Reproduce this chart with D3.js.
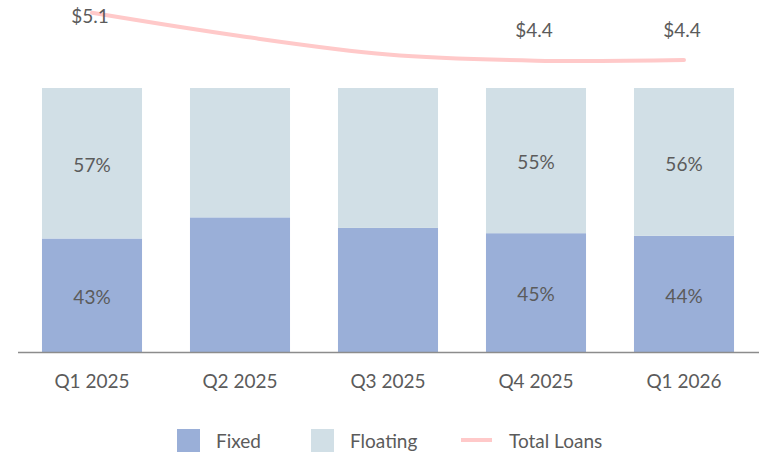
<!DOCTYPE html>
<html>
<head>
<meta charset="utf-8">
<script src="https://cdn.jsdelivr.net/npm/d3@7"></script>
<style>
  body { margin: 0; background: #fff; }
  svg { display: block; font-family: Lato, "Open Sans", sans-serif; }
</style>
</head>
<body>
<div id="container"></div>
<script>
// 数据
const quarters = ["Q1 2025", "Q2 2025", "Q3 2025", "Q4 2025", "Q1 2026"];
const fixedShare = [0.43, 0.51, 0.47, 0.45, 0.44];
const floatingShare = [0.57, 0.49, 0.53, 0.55, 0.56];
const showShareLabel = [true, false, false, true, true];
const totalLoans = [5.1, 4.76, 4.49, 4.4, 4.41];
const loanLabels = ["$5.1", null, null, "$4.4", "$4.4"];

const width = 759;
const height = 452;

const colorFixed = "#9aafd8";
const colorFloating = "#d1dfe6";
const colorLine = "#ffc9c9";
const textColor = "#5b5b5b";
const fontSize = 19;

const svg = d3.select("#container")
  .append("svg")
  .attr("width", width)
  .attr("height", height);

// 比例尺
const x = d3.scaleBand()
  .domain(quarters)
  .range([18, 758])
  .paddingInner(0.324)
  .paddingOuter(0.162);

const yBar = d3.scaleLinear().domain([0, 1]).range([352, 88]);
const yLine = d3.scaleLinear().domain([4.0, 5.2]).range([88, 6]);

const rows = quarters.map((q, i) => ({
  q,
  fixed: fixedShare[i],
  floating: floatingShare[i],
  show: showShareLabel[i]
}));

// 柱子（堆叠）
const stack = d3.stack().keys(["fixed", "floating"])(rows);
const colors = { fixed: colorFixed, floating: colorFloating };

svg.append("g")
  .selectAll("g")
  .data(stack)
  .join("g")
  .attr("fill", (d) => colors[d.key])
  .selectAll("rect")
  .data((d) => d)
  .join("rect")
  .attr("x", (d) => x(d.data.q))
  .attr("width", x.bandwidth())
  .attr("y", (d) => yBar(d[1]))
  .attr("height", (d) => yBar(d[0]) - yBar(d[1]));

// 百分比标注
svg.append("g")
  .attr("font-size", fontSize)
  .attr("fill", textColor)
  .attr("text-anchor", "middle")
  .selectAll("g")
  .data(stack)
  .join("g")
  .selectAll("text")
  .data((d) => d.filter((s) => s.data.show))
  .join("text")
  .attr("x", (d) => x(d.data.q) + x.bandwidth() / 2)
  .attr("y", (d) => (yBar(d[0]) + yBar(d[1])) / 2 + 2)
  .attr("dy", "0.35em")
  .text((d) => Math.round((d[1] - d[0]) * 100) + "%");

// 横轴
svg.append("line")
  .attr("x1", 18)
  .attr("x2", width)
  .attr("y1", 352.5)
  .attr("y2", 352.5)
  .attr("stroke", "#8c8c8c")
  .attr("stroke-width", 1.5);

svg.append("g")
  .attr("font-size", fontSize)
  .attr("fill", textColor)
  .attr("text-anchor", "middle")
  .selectAll("text")
  .data(quarters)
  .join("text")
  .attr("x", (d) => x(d) + x.bandwidth() / 2)
  .attr("y", 381)
  .attr("dy", "0.35em")
  .text((d) => d);

// 折线
const line = d3.line()
  .x((d, i) => x(quarters[i]) + x.bandwidth() / 2)
  .y((d) => yLine(d))
  .curve(d3.curveCatmullRom.alpha(0.5));

svg.append("path")
  .datum(totalLoans)
  .attr("fill", "none")
  .attr("stroke", colorLine)
  .attr("stroke-width", 4)
  .attr("stroke-linecap", "round")
  .attr("d", line);

svg.append("g")
  .attr("font-size", fontSize)
  .attr("fill", textColor)
  .attr("text-anchor", "middle")
  .selectAll("text")
  .data(totalLoans.map((v, i) => ({ v, i, label: loanLabels[i] })).filter((d) => d.label))
  .join("text")
  .attr("x", (d) => x(quarters[d.i]) + x.bandwidth() / 2 - 2)
  .attr("y", (d) => Math.max(yLine(d.v) - 30, 16))
  .attr("dy", "0.35em")
  .text((d) => d.label);

// 图例
const legend = svg.append("g")
  .attr("font-size", fontSize)
  .attr("fill", textColor);

const legendItems = [
  { name: "Fixed", type: "rect", color: colorFixed, x: 177 },
  { name: "Floating", type: "rect", color: colorFloating, x: 311 },
  { name: "Total Loans", type: "line", color: colorLine, x: 461 }
];

legendItems.forEach((d) => {
  if (d.type === "rect") {
    legend.append("rect")
      .attr("x", d.x)
      .attr("y", 429)
      .attr("width", 23)
      .attr("height", 23)
      .attr("fill", d.color);
    legend.append("text")
      .attr("x", d.x + 39)
      .attr("y", 441)
      .attr("dy", "0.35em")
      .text(d.name);
  } else {
    legend.append("line")
      .attr("x1", d.x)
      .attr("x2", d.x + 31)
      .attr("y1", 440)
      .attr("y2", 440)
      .attr("stroke", d.color)
      .attr("stroke-width", 4);
    legend.append("text")
      .attr("x", d.x + 48)
      .attr("y", 441)
      .attr("dy", "0.35em")
      .text(d.name);
  }
});
</script>
</body>
</html>
